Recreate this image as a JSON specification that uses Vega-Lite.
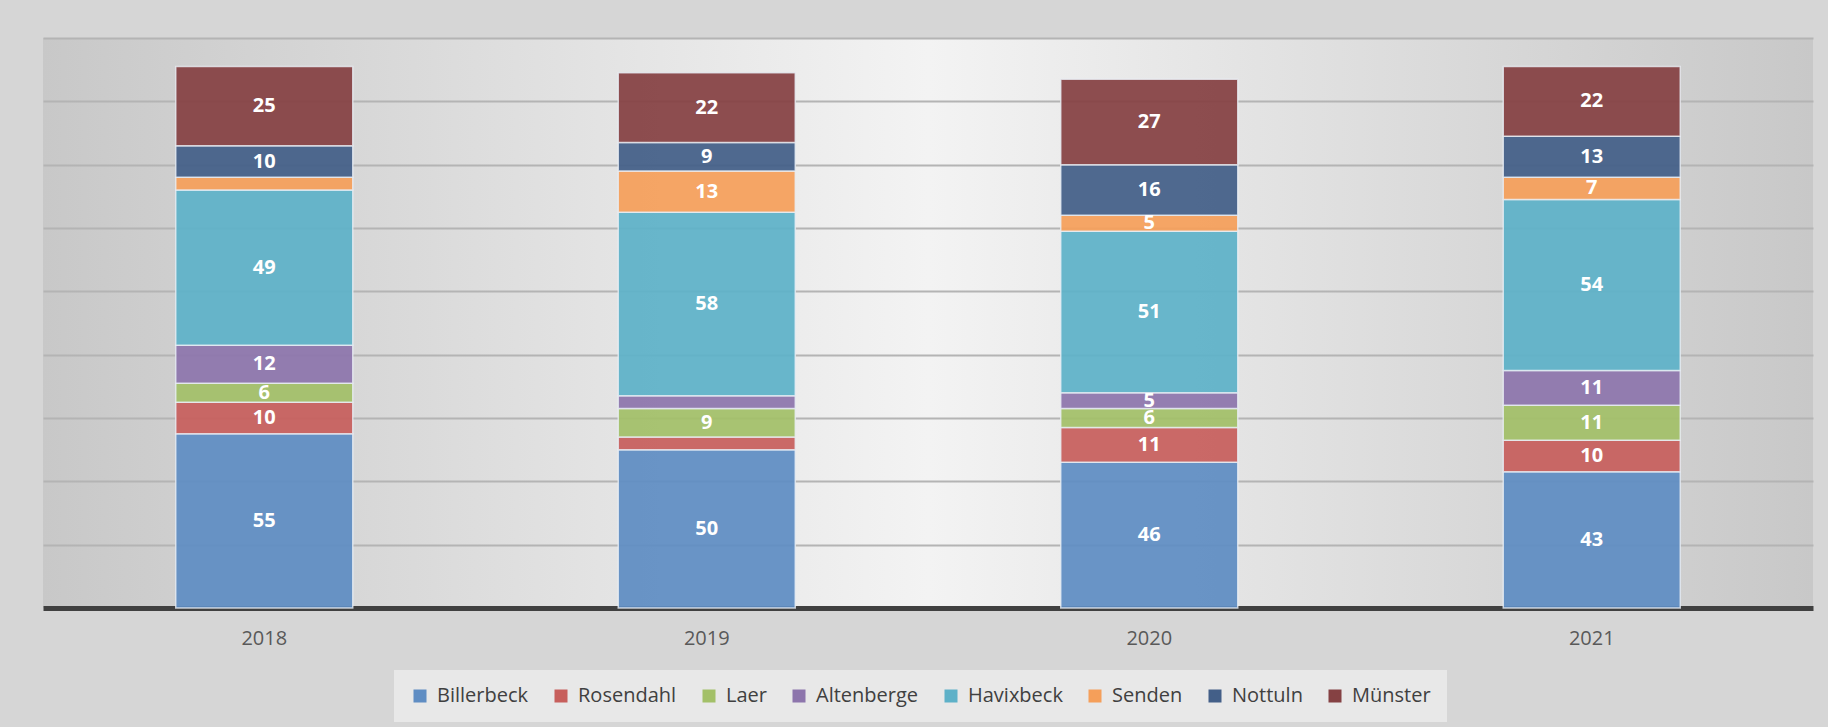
{
  "$schema": "https://vega.github.io/schema/vega-lite/v6.json",
  "width": 1770,
  "height": 570,
  "padding": {"left": 43, "top": 38, "right": 15, "bottom": 12},
  "background": "#d6d6d6",
  "view": {
    "stroke": null,
    "fill": {
      "gradient": "linear",
      "x1": 0, "y1": 0, "x2": 1, "y2": 0,
      "stops": [
        {"offset": 0, "color": "#c8c8c8"},
        {"offset": 0.5, "color": "#f3f3f3"},
        {"offset": 1, "color": "#c8c8c8"}
      ]
    }
  },
  "data": {
    "values": [
      {"year": "2018", "town": "Billerbeck", "rank": 1, "value": 55},
      {"year": "2018", "town": "Rosendahl", "rank": 2, "value": 10},
      {"year": "2018", "town": "Laer", "rank": 3, "value": 6},
      {"year": "2018", "town": "Altenberge", "rank": 4, "value": 12},
      {"year": "2018", "town": "Havixbeck", "rank": 5, "value": 49},
      {"year": "2018", "town": "Senden", "rank": 6, "value": 4},
      {"year": "2018", "town": "Nottuln", "rank": 7, "value": 10},
      {"year": "2018", "town": "Münster", "rank": 8, "value": 25},
      {"year": "2019", "town": "Billerbeck", "rank": 1, "value": 50},
      {"year": "2019", "town": "Rosendahl", "rank": 2, "value": 4},
      {"year": "2019", "town": "Laer", "rank": 3, "value": 9},
      {"year": "2019", "town": "Altenberge", "rank": 4, "value": 4},
      {"year": "2019", "town": "Havixbeck", "rank": 5, "value": 58},
      {"year": "2019", "town": "Senden", "rank": 6, "value": 13},
      {"year": "2019", "town": "Nottuln", "rank": 7, "value": 9},
      {"year": "2019", "town": "Münster", "rank": 8, "value": 22},
      {"year": "2020", "town": "Billerbeck", "rank": 1, "value": 46},
      {"year": "2020", "town": "Rosendahl", "rank": 2, "value": 11},
      {"year": "2020", "town": "Laer", "rank": 3, "value": 6},
      {"year": "2020", "town": "Altenberge", "rank": 4, "value": 5},
      {"year": "2020", "town": "Havixbeck", "rank": 5, "value": 51},
      {"year": "2020", "town": "Senden", "rank": 6, "value": 5},
      {"year": "2020", "town": "Nottuln", "rank": 7, "value": 16},
      {"year": "2020", "town": "Münster", "rank": 8, "value": 27},
      {"year": "2021", "town": "Billerbeck", "rank": 1, "value": 43},
      {"year": "2021", "town": "Rosendahl", "rank": 2, "value": 10},
      {"year": "2021", "town": "Laer", "rank": 3, "value": 11},
      {"year": "2021", "town": "Altenberge", "rank": 4, "value": 11},
      {"year": "2021", "town": "Havixbeck", "rank": 5, "value": 54},
      {"year": "2021", "town": "Senden", "rank": 6, "value": 7},
      {"year": "2021", "town": "Nottuln", "rank": 7, "value": 13},
      {"year": "2021", "town": "Münster", "rank": 8, "value": 22}
    ]
  },
  "encoding": {
    "x": {
      "field": "year",
      "type": "nominal",
      "scale": {"paddingInner": 0.6, "paddingOuter": 0.3},
      "axis": {
        "title": null,
        "labelAngle": 0,
        "ticks": false,
        "domainColor": "#404040",
        "domainWidth": 5,
        "labelColor": "#595959",
        "labelFont": "Open Sans",
        "labelFontSize": 20,
        "labelPadding": 20,
        "grid": false
      }
    },
    "y": {
      "field": "value",
      "type": "quantitative",
      "stack": "zero",
      "scale": {"domain": [0, 180], "nice": false},
      "axis": {
        "title": null,
        "labels": false,
        "ticks": false,
        "domain": false,
        "values": [20, 40, 60, 80, 100, 120, 140, 160, 180],
        "grid": true,
        "gridColor": "#b4b4b4",
        "gridWidth": 2
      }
    },
    "order": {"field": "rank", "type": "quantitative", "sort": "ascending"}
  },
  "layer": [
    {
      "mark": {"type": "bar", "fillOpacity": 0.93, "stroke": "#e8eef4", "strokeWidth": 1.5, "strokeOpacity": 0.8},
      "encoding": {
        "color": {
          "field": "town",
          "type": "nominal",
          "sort": ["Billerbeck", "Rosendahl", "Laer", "Altenberge", "Havixbeck", "Senden", "Nottuln", "Münster"],
          "scale": {
            "domain": ["Billerbeck", "Rosendahl", "Laer", "Altenberge", "Havixbeck", "Senden", "Nottuln", "Münster"],
            "range": ["#5f8dc3", "#c75f5c", "#a3c068", "#8d75ac", "#5eb1c8", "#f59f5a", "#435f88", "#854143"]
          },
          "legend": {
            "orient": "none",
            "legendX": 351,
            "legendY": 632,
            "direction": "horizontal",
            "columns": 8,
            "title": null,
            "fillColor": "#e8e8e8",
            "padding": 16,
            "symbolType": "square",
            "symbolSize": 169,
            "symbolStrokeWidth": 0,
            "symbolOpacity": 1,
            "labelFont": "Open Sans",
            "labelFontSize": 20,
            "labelColor": "#404040",
            "labelOffset": 7,
            "columnPadding": 22
          }
        }
      }
    },
    {
      "mark": {"type": "text", "color": "white", "font": "Open Sans", "fontWeight": "bold", "fontSize": 20, "baseline": "middle"},
      "encoding": {
        "y": {"field": "value", "type": "quantitative", "stack": "zero", "bandPosition": 0.5},
        "detail": {"field": "town", "type": "nominal"},
        "text": {"condition": {"test": "datum.value < 5", "value": ""}, "field": "value", "type": "quantitative"}
      }
    }
  ]
}
